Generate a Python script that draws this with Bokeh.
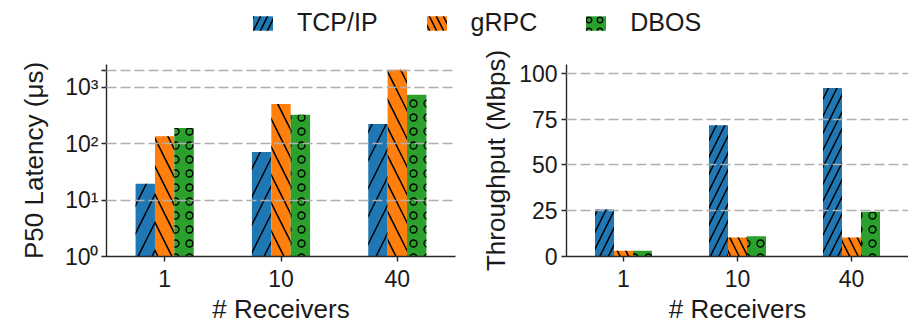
from bokeh.plotting import figure
from bokeh.models import (ColumnDataSource, FactorRange, Range1d, FixedTicker,
                          CustomJSTickFormatter, Legend, LegendItem)
from bokeh.transform import dodge
from bokeh.layouts import column, row
from bokeh.embed import file_html
from bokeh.resources import INLINE

# ---------------- data ----------------
receivers = ["1", "10", "40"]
systems = ["TCP/IP", "gRPC", "DBOS"]

latency_tcp = [19.5, 71, 223]
latency_grpc = [135, 505, 2040]
latency_dbos = [190, 325, 737]

throughput_tcp = [25.7, 71.7, 92.1]
throughput_grpc = [3.2, 10.4, 10.4]
throughput_dbos = [3.2, 11.1, 24.5]

latency_ticks = [1, 10, 100, 1000, 2000]
latency_tick_labels = ["10⁰", "10¹", "10²", "10³", ""]
throughput_ticks = [0, 25, 50, 75, 100]

x_label = "# Receivers"
latency_label = "P50 Latency (μs)"
throughput_label = "Throughput (Mbps)"

# ---------------- styles ----------------
colors = ["#1f77b4", "#ff7f0e", "#2ca02c"]
hatches = ["/", "\\", "o"]
offsets = [-1/6, 0, 1/6]
BAR_W = 1/6
FONT = "Liberation Sans"
TEXT = "#1a1a1a"
AXIS = "#262626"

lat_src = ColumnDataSource(dict(receivers=receivers, TCP=latency_tcp,
                                gRPC=latency_grpc, DBOS=latency_dbos))
thr_src = ColumnDataSource(dict(receivers=receivers, TCP=throughput_tcp,
                                gRPC=throughput_grpc, DBOS=throughput_dbos))
cols = ["TCP", "gRPC", "DBOS"]


def style(p):
    p.outline_line_color = None
    p.xgrid.grid_line_color = None
    p.ygrid.grid_line_color = "#b0b0b0"
    p.ygrid.grid_line_width = 1.3
    p.ygrid.grid_line_dash = "10 4"
    p.ygrid.level = "annotation"
    for ax in (p.xaxis[0], p.yaxis[0]):
        ax.axis_line_color = AXIS
        ax.axis_line_width = 1.4
        ax.major_tick_line_color = AXIS
        ax.major_tick_line_width = 1.4
        ax.major_tick_out = 5
        ax.major_tick_in = 0
        ax.minor_tick_line_color = None
        ax.major_label_text_font = FONT
        ax.major_label_text_font_size = "23px"
        ax.major_label_text_color = TEXT
        ax.axis_label_text_font = FONT
        ax.axis_label_text_font_size = "26px"
        ax.axis_label_text_font_style = "normal"
        ax.axis_label_text_color = TEXT
    p.xaxis.major_label_standoff = 8
    p.xaxis.axis_label_standoff = 4
    p.xaxis.axis_label = x_label


def bars(p, src, bottom, line_scale, dot_scale):
    rs = []
    for c, col, h, off in zip(cols, colors, hatches, offsets):
        r = p.vbar(x=dodge("receivers", off, range=p.x_range), top=c,
                   bottom=bottom, width=BAR_W, source=src,
                   fill_color=col, line_color=None,
                   hatch_pattern=h, hatch_color="black",
                   hatch_weight=1.5 if h != "o" else 1.3,
                   hatch_scale=line_scale if h != "o" else dot_scale)
        rs.append(r)
    return rs


# ---------------- left: latency ----------------
pl = figure(title=None, width=473, height=286, x_range=FactorRange(*receivers),
            y_range=Range1d(1, 2530), y_axis_type="log",
            output_backend="svg", toolbar_location=None,
            min_border_left=106, min_border_right=18,
            min_border_top=24, min_border_bottom=70)
bars(pl, lat_src, 1, 28, 14)
style(pl)
pl.yaxis.ticker = FixedTicker(ticks=latency_ticks)
pl.yaxis.formatter = CustomJSTickFormatter(
    args=dict(tv=latency_ticks, tl=latency_tick_labels),
    code="let k = -1; for (let i = 0; i < tv.length; i++) { if (Math.abs(tv[i] - tick) < 1e-6 * tv[i]) k = i; } return k >= 0 ? tl[k] : '';")
pl.yaxis.axis_label = latency_label
pl.yaxis.major_label_standoff = 3
pl.yaxis.axis_label_standoff = 13

# ---------------- right: throughput ----------------
# frames of a row share top/bottom edges, so the range reaches a bit above 100
pr = figure(title=None, width=435, height=286, x_range=FactorRange(*receivers),
            y_range=Range1d(0, 104.9),
            output_backend="svg", toolbar_location=None,
            min_border_left=93, min_border_right=0,
            min_border_top=24, min_border_bottom=70)
bars(pr, thr_src, 0, 17, 14)
style(pr)
pr.yaxis.ticker = FixedTicker(ticks=throughput_ticks)
pr.yaxis.axis_label = throughput_label
pr.yaxis.major_label_standoff = 4
pr.yaxis.axis_label_standoff = 5

# ---------------- legend strip ----------------
# bars here reference factors that are not in this strip's range, so only the
# legend swatches are drawn
pg = figure(title=None, width=908, height=40, x_range=FactorRange("legend"),
            y_range=Range1d(0, 1), output_backend="svg",
            toolbar_location=None, min_border=0,
            x_axis_location=None, y_axis_location=None)
pg.outline_line_color = None
pg.grid.grid_line_color = None
leg_rs = bars(pg, thr_src, 0, 14, 11)
legend = Legend(items=[LegendItem(label=s, renderers=[r]) for s, r in zip(systems, leg_rs)],
                orientation="horizontal", location=(250, 3),
                glyph_width=25, glyph_height=18, label_standoff=22, spacing=46,
                padding=0, margin=0, border_line_color=None,
                background_fill_alpha=0,
                label_text_font=FONT, label_text_font_size="25px",
                label_text_color=TEXT)
pg.add_layout(legend, "center")

layout = column(pg, row(pl, pr))
open("out.html", "w").write(file_html(layout, INLINE))
